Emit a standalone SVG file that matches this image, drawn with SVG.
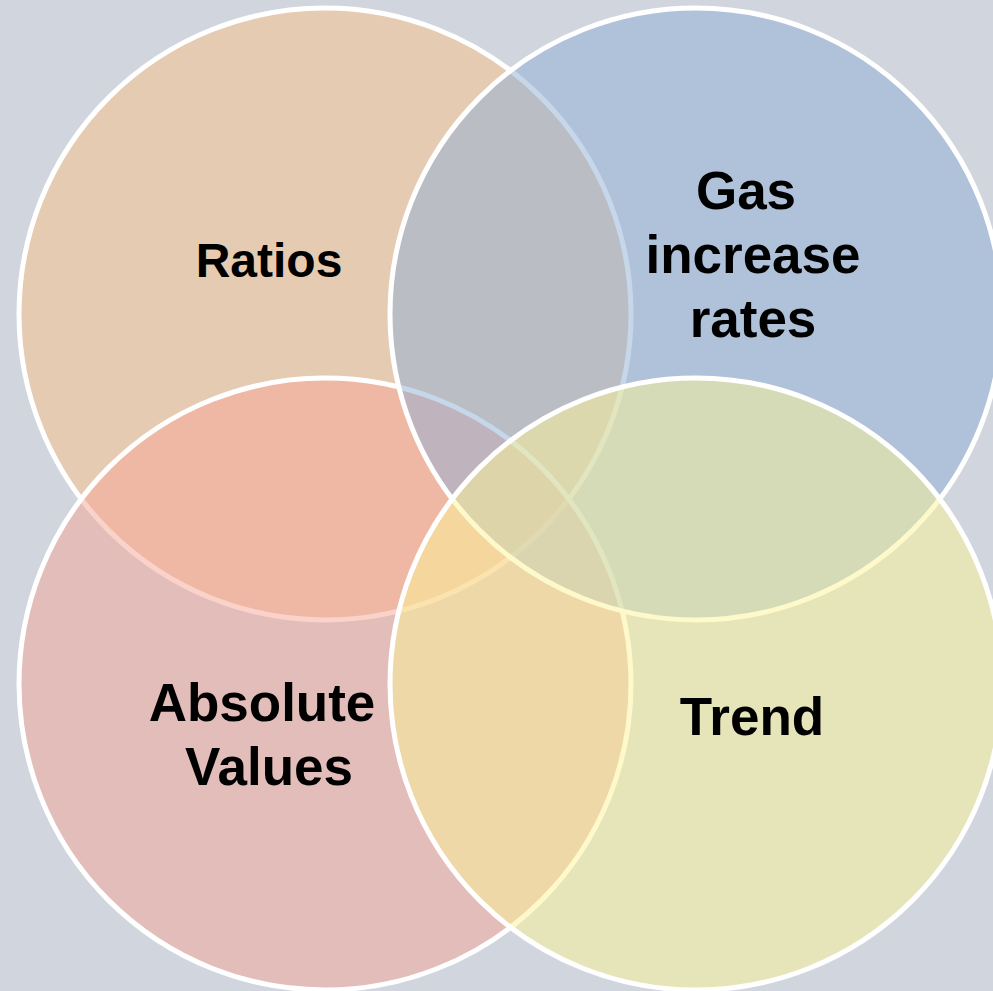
<svg xmlns="http://www.w3.org/2000/svg" width="993" height="991" viewBox="0 0 993 991">
  <style>
    .set { stroke: #ffffff; stroke-width: 5; fill-opacity: 0.5; }
    .label { font-family: "Liberation Sans", Arial, sans-serif; font-weight: bold; fill: #000000; text-anchor: middle; }
  </style>
  <!-- backdrop -->
  <rect x="0" y="0" width="993" height="991" fill="#d1d5dd"/>

  <!-- four overlapping sets, drawn bottom to top -->
  <g id="ratios">
    <circle class="set" cx="325" cy="314" r="306" fill="#fbc189"/>
    <text class="label" x="269" y="277" font-size="48">Ratios</text>
  </g>
  <g id="absolute-values">
    <circle class="set" cx="325" cy="684" r="306" fill="#f5a595"/>
    <text class="label" font-size="53"><tspan x="262" y="721">Absolute</tspan><tspan x="269" y="785">Values</tspan></text>
  </g>
  <g id="gas-increase-rates">
    <circle class="set" cx="696" cy="314" r="306" fill="#8fafd5"/>
    <text class="label" font-size="53"><tspan x="746" y="209">Gas</tspan><tspan x="753" y="273">increase</tspan><tspan x="753" y="337">rates</tspan></text>
  </g>
  <g id="trend">
    <circle class="set" cx="696" cy="684" r="306" fill="#fbf395"/>
    <text class="label" x="752" y="735" font-size="53">Trend</text>
  </g>

  <!-- no connectors in this diagram -->
  <g id="connectors"/>
</svg>
